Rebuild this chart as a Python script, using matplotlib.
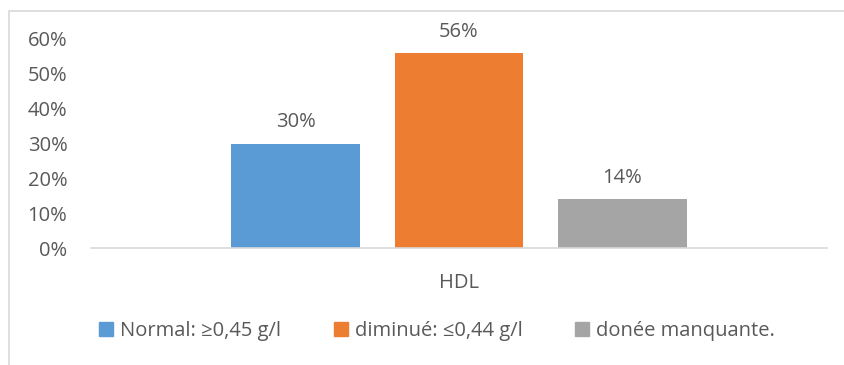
import matplotlib.pyplot as plt
from matplotlib.patches import Patch, Rectangle
from matplotlib.ticker import PercentFormatter

categories = ['HDL']
series = ['Normal: ≥0,45 g/l', 'diminué: ≤0,44 g/l', 'donée manquante.']
values = [0.30, 0.56, 0.14]
colors = ['#5b9bd5', '#ed7d31', '#a5a5a5']

plt.rcParams['font.family'] = ['Open Sans', 'DejaVu Sans']
txt = '#595959'
fs = 14.5

fig = plt.figure(figsize=(8.45, 3.65), dpi=100)
ax = fig.add_axes([91 / 845, 117 / 365, 736 / 845, 209 / 365])

# cadre du graphique (seulement bords gauche et haut visibles)
fig.patches.append(Rectangle((9.5 / 845, -0.1), 1.0, (365 - 10.5) / 365 + 0.1,
                             transform=fig.transFigure, fill=False,
                             edgecolor='#d9d9d9', linewidth=1.2))

w = 0.175
offsets = [-0.222, 0, 0.222]
for s, v, c, o in zip(series, values, colors, offsets):
    ax.bar(o, v, width=w, color=c, label=s)
    ax.annotate(f'{v:.0%}', (o, v), xytext=(0, 8), textcoords='offset points',
                ha='center', va='bottom', fontsize=fs, color=txt)

ax.set_xlim(-0.5, 0.5)
ax.set_ylim(0, 0.6)
ax.set_yticks([0, 0.1, 0.2, 0.3, 0.4, 0.5, 0.6])
ax.yaxis.set_major_formatter(PercentFormatter(1.0, decimals=0))
ax.set_xticks([0])
ax.set_xticklabels(categories)
ax.tick_params(axis='both', length=0, labelsize=fs, colors=txt)
ax.tick_params(axis='y', pad=17)
ax.tick_params(axis='x', pad=18)
for sp in ['top', 'right', 'left']:
    ax.spines[sp].set_visible(False)
ax.spines['bottom'].set_color('#d9d9d9')
ax.spines['bottom'].set_linewidth(1.2)

handles = [Patch(color=c) for c in colors]
fig.legend(handles, series, loc='center', bbox_to_anchor=(437 / 845, 1 - 331 / 365),
           ncol=3, frameon=False, fontsize=fs, labelcolor=txt,
           handlelength=0.7, handleheight=0.7, handletextpad=0.35, columnspacing=2.6)

fig.savefig('out.png', dpi=100)
